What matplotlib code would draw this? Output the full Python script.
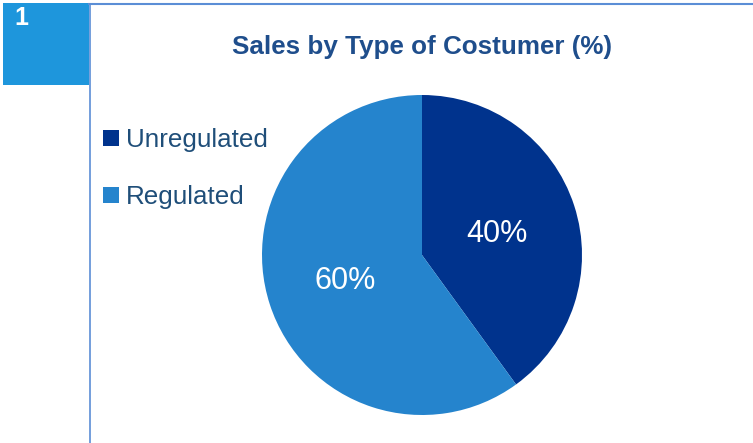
import matplotlib.pyplot as plt
from matplotlib.patches import Rectangle

categories = ["Unregulated", "Regulated"]
shares = [40, 60]
colors = ["#00338D", "#2584CD"]
title = "Sales by Type of Costumer (%)"
panel_number = "1"

W, H = 753, 443
fig = plt.figure(figsize=(W / 100, H / 100), dpi=100)
fig.patch.set_facecolor("white")

font = ["Liberation Sans", "DejaVu Sans"]


# frame decorations (pixel coords via figure fraction)
def fx(x):
    return x / W


def fy(y):
    return 1 - y / H


fig.patches.append(Rectangle((fx(3), fy(85)), fx(86), 82 / H, transform=fig.transFigure,
                             facecolor="#1E96DC", edgecolor="none"))
fig.add_artist(plt.Line2D([fx(89), 1], [fy(4), fy(4)], transform=fig.transFigure,
                          color="#5B8ED6", lw=1.5))
fig.add_artist(plt.Line2D([fx(89.5), fx(89.5)], [fy(4), 0], transform=fig.transFigure,
                          color="#5B8ED6", lw=1.2))
fig.text(fx(14), fy(18), panel_number, color="white", fontsize=18, fontweight="bold",
         family=font, ha="left", va="center")

fig.text(fx(422), fy(47), title, color="#1F4E8C", fontsize=18.7, fontweight="bold",
         family=font, ha="center", va="center")

# pie: center (422,255), radius 160 px
r = 160
ax = fig.add_axes([fx(422 - r), fy(255 + r), 2 * r / W, 2 * r / H])
wedges, texts = ax.pie(shares, colors=colors, startangle=90, counterclock=False,
                       wedgeprops=dict(linewidth=0))
ax.set_aspect("equal")
ax.set_xlim(-1, 1)
ax.set_ylim(-1, 1)

label_pos = [(0.47, 0.13), (-0.48, -0.16)]
for (x, y), s in zip(label_pos, shares):
    ax.text(x, y, f"{s}%", color="white", fontsize=22, family=font, ha="center", va="center")

# legend
for i, (name, c) in enumerate(zip(categories, colors)):
    y = 138 + i * 57
    fig.patches.append(Rectangle((fx(103), fy(y + 8)), 16 / W, 16 / H, transform=fig.transFigure,
                                 facecolor=c, edgecolor="none"))
    fig.text(fx(126), fy(y + 2), name, color="#1F4E79", fontsize=18.7, family=font,
             ha="left", va="center")

fig.savefig("out.png", dpi=100)
